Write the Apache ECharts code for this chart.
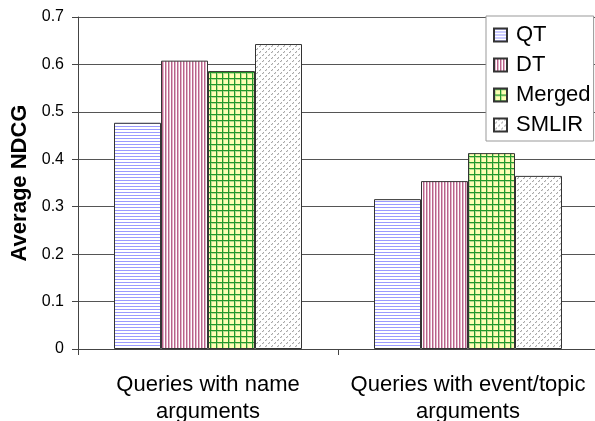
<!DOCTYPE html>
<html><head><meta charset="utf-8">
<script src="https://cdn.jsdelivr.net/npm/echarts@6/dist/echarts.min.js"></script>
<style>html,body{margin:0;padding:0;background:#fff}#c{width:595px;height:421px}</style>
</head><body><div id="c"></div>
<script>
var categories = ['Queries with name\narguments', 'Queries with event/topic\narguments'];
var seriesNames = ['QT', 'DT', 'Merged', 'SMLIR'];
var qtValues = [0.477, 0.316];
var dtValues = [0.608, 0.354];
var mergedValues = [0.586, 0.413];
var smlirValues = [0.643, 0.365];
var yTicks = [0, 0.1, 0.2, 0.3, 0.4, 0.5, 0.6, 0.7];

function tile(w, h, draw) {
  var c = document.createElement('canvas');
  c.width = w; c.height = h;
  var g = c.getContext('2d');
  draw(g, w, h);
  return { image: c, repeat: 'repeat' };
}
var qtPat = tile(4, 3, function (g, w, h) {
  g.fillStyle = '#ffffff'; g.fillRect(0, 0, w, h);
  g.fillStyle = '#9a9aff'; g.fillRect(0, 0, w, 1);
});
var dtPat = tile(3, 4, function (g, w, h) {
  g.fillStyle = '#ffffff'; g.fillRect(0, 0, w, h);
  g.fillStyle = '#b8638a'; g.fillRect(0, 0, 1, h);
  g.fillStyle = '#e2b4c8'; g.fillRect(1, 0, 1, h);
});
var mergedPat = tile(6, 6, function (g, w, h) {
  g.fillStyle = '#ffffb4'; g.fillRect(0, 0, w, h);
  g.fillStyle = '#b8dc90'; g.fillRect(1, 0, 1, h); g.fillRect(0, 1, w, 1);
  g.fillStyle = '#22992a'; g.fillRect(0, 0, 1, h); g.fillRect(0, 0, w, 1);
});
var smlirPat = tile(6, 6, function (g, w, h) {
  g.fillStyle = '#ffffff'; g.fillRect(0, 0, w, h);
  g.fillStyle = '#a8a8a8';
  for (var i = 0; i < 6; i++) {
    if (i % 3 !== 2) g.fillRect(5 - i, i, 1, 1);
  }
  g.fillStyle = '#d8d8d8';
  g.fillRect(2, 4, 1, 1); g.fillRect(5, 1, 1, 1);
});

var pats = [qtPat, dtPat, mergedPat, smlirPat];
var vals = [qtValues, dtValues, mergedValues, smlirValues];
var font = 'Arial, "Liberation Sans", sans-serif';

var chart = echarts.init(document.getElementById('c'), null, { renderer: 'canvas' });
chart.setOption({
  animation: false,
  backgroundColor: '#ffffff',
  grid: { left: 78, top: 17, width: 520, height: 332, containLabel: false, outerBoundsMode: 'none' },
  legend: {
    orient: 'vertical',
    left: 486, top: 16,
    padding: [8, 3, 5, 7],
    itemGap: 8,
    itemWidth: 13, itemHeight: 13,
    backgroundColor: '#ffffff',
    borderColor: '#999999', borderWidth: 1,
    textStyle: { fontFamily: font, fontSize: 22, lineHeight: 22, color: '#000', padding: [0, 0, 0, 4] },
    data: seriesNames.map(function (n) { return { name: n, icon: 'rect' }; })
  },
  xAxis: {
    type: 'category',
    data: categories,
    axisLine: { lineStyle: { color: '#444', width: 1 } },
    axisTick: { show: true, length: 6, interval: 0, lineStyle: { color: '#444' } },
    axisLabel: { interval: 0, hideOverlap: false, fontFamily: font, fontSize: 22, color: '#000', lineHeight: 27, margin: 22 }
  },
  yAxis: {
    type: 'value',
    min: 0, max: 0.7, interval: 0.1,
    name: 'Average NDCG',
    nameLocation: 'middle',
    nameGap: 43,
    nameTextStyle: { fontFamily: font, fontSize: 22, fontWeight: 'bold', color: '#000' },
    axisLine: { show: true, lineStyle: { color: '#444', width: 1 } },
    axisTick: { show: true, length: 6, lineStyle: { color: '#444' } },
    axisLabel: {
      fontFamily: font, fontSize: 16, color: '#000', margin: 14,
      formatter: function (v) { var r = Math.round(v * 10) / 10; return yTicks.indexOf(r) >= 0 ? String(r) : ''; }
    },
    splitLine: { show: true, lineStyle: { color: '#555', width: 1 } }
  },
  series: seriesNames.map(function (n, i) {
    return {
      name: n, type: 'bar',
      data: vals[i],
      barWidth: 47,
      barGap: '0%',
      itemStyle: { color: pats[i], borderColor: '#333', borderWidth: 1 }
    };
  })
});
</script></body></html>
